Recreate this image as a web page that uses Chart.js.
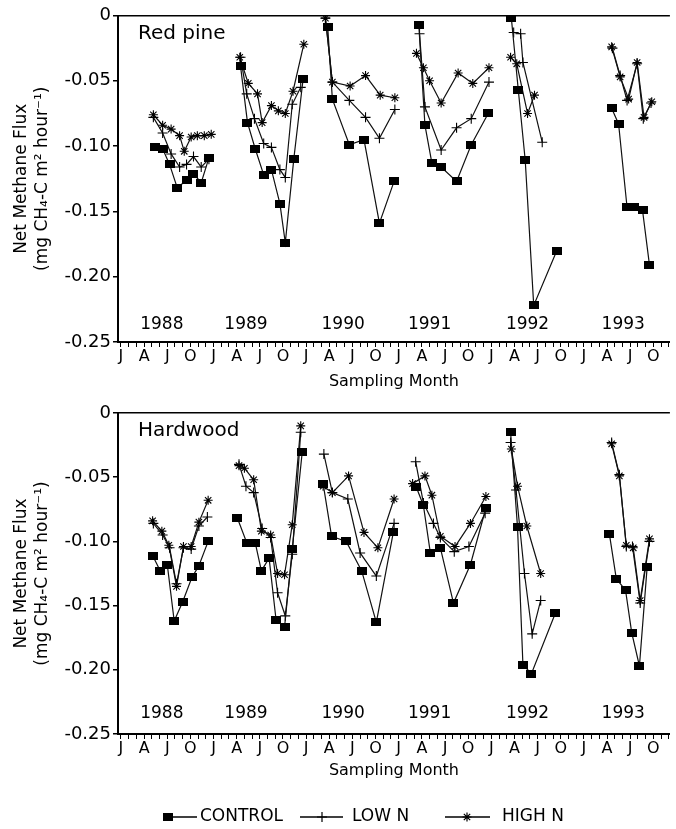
<!DOCTYPE html>
<html>
<head>
<meta charset="utf-8">
<script src="https://cdn.jsdelivr.net/npm/chart.js@4/dist/chart.umd.min.js"></script>
<style>
  html, body { margin: 0; padding: 0; background: #fff; }
  #wrap { position: relative; width: 676px; height: 829px; }
  canvas { position: absolute; left: 0; }
  #pine { top: 0; }
  #hard { top: 395px; }
</style>
</head>
<body>
<div id="wrap">
  <canvas id="pine" width="676" height="395"></canvas>
  <canvas id="hard" width="676" height="434"></canvas>
</div>
<script>
// months counted from the first "J" tick (0 = Jan 1988); null = break between years
const pineControlM = [4.4,5.4,6.3,7.3,8.5,9.4,10.4,11.4, null, 15.5,16.4,17.4,18.5,19.5,20.6,21.3,22.4,23.6, null, 26.8,27.4,29.6,31.5,33.5,35.4, null, 38.6,39.4,40.3,41.5,43.5,45.4,47.6, null, 50.6,51.5,52.4,53.5,56.5, null, 63.6,64.5,65.6,66.5,67.6,68.5];
const pineControlV = [-0.101,-0.102,-0.114,-0.132,-0.126,-0.121,-0.128,-0.109, null, -0.039,-0.082,-0.102,-0.122,-0.118,-0.144,-0.174,-0.110,-0.049, null, -0.009,-0.064,-0.099,-0.095,-0.159,-0.127, null, -0.007,-0.084,-0.113,-0.116,-0.127,-0.099,-0.075, null, -0.002,-0.057,-0.111,-0.222,-0.180, null, -0.071,-0.083,-0.147,-0.147,-0.149,-0.191];
const pineLowM = [4.2,5.4,6.5,7.6,8.5,9.4,10.4,11.4, null, 15.5,16.3,17.3,18.5,19.5,20.6,21.3,22.2,23.3, null, 26.5,27.4,29.6,31.7,33.5,35.5, null, 38.7,39.4,41.5,43.5,45.4,47.7, null, 50.9,51.8,52.1,54.6, null, 63.7,64.7,65.6,66.9,67.7,68.7];
const pineLowV = [-0.078,-0.090,-0.106,-0.116,-0.114,-0.108,-0.116,-0.110, null, -0.032,-0.060,-0.079,-0.098,-0.101,-0.118,-0.124,-0.068,-0.055, null, -0.002,-0.051,-0.065,-0.078,-0.094,-0.072, null, -0.014,-0.070,-0.103,-0.086,-0.079,-0.051, null, -0.013,-0.014,-0.036,-0.097, null, -0.025,-0.046,-0.065,-0.037,-0.079,-0.067];
const pineHighM = [4.2,5.4,6.5,7.6,8.2,9.1,9.9,10.8,11.7, null, 15.4,16.5,17.7,18.3,19.5,20.4,21.3,22.3,23.7, null, 26.5,27.4,29.7,31.7,33.6,35.5, null, 38.3,39.2,40.0,41.5,43.7,45.6,47.7, null, 50.5,51.3,52.7,53.6, null, 63.6,64.7,65.8,66.9,67.8,68.8];
const pineHighV = [-0.076,-0.084,-0.087,-0.092,-0.104,-0.093,-0.092,-0.092,-0.091, null, -0.032,-0.052,-0.060,-0.082,-0.069,-0.073,-0.075,-0.058,-0.022, null, -0.002,-0.051,-0.054,-0.046,-0.061,-0.063, null, -0.029,-0.040,-0.050,-0.067,-0.044,-0.052,-0.040, null, -0.032,-0.037,-0.075,-0.061, null, -0.024,-0.047,-0.064,-0.036,-0.078,-0.066];

const hardControlM = [4.1,5.1,6.0,6.9,8.0,9.2,10.1,11.3, null, 15.1,16.3,17.4,18.2,19.2,20.1,21.2,22.2,23.5, null, 26.2,27.3,29.2,31.2,33.1,35.3, null, 38.3,39.2,40.1,41.4,43.1,45.3,47.3, null, 50.5,51.4,52.1,53.2,56.3, null, 63.3,64.2,65.4,66.2,67.2,68.2];
const hardControlV = [-0.111,-0.123,-0.118,-0.162,-0.147,-0.128,-0.119,-0.100, null, -0.082,-0.101,-0.101,-0.123,-0.113,-0.161,-0.167,-0.106,-0.030, null, -0.055,-0.096,-0.100,-0.123,-0.163,-0.093, null, -0.058,-0.072,-0.109,-0.105,-0.148,-0.118,-0.074, null, -0.015,-0.089,-0.196,-0.203,-0.156, null, -0.094,-0.129,-0.138,-0.171,-0.197,-0.120];
const hardLowM = [4.2,5.4,6.3,7.2,8.1,9.1,10.1,11.2, null, 15.3,16.2,17.2,18.3,19.4,20.3,21.3,22.2,23.3, null, 26.3,27.4,29.4,31.0,33.1,35.4, null, 38.2,39.2,40.5,41.4,43.2,45.1,47.2, null, 50.5,51.2,52.3,53.3,54.4, null, 63.6,64.6,65.5,66.3,67.3,68.5];
const hardLowV = [-0.086,-0.095,-0.105,-0.133,-0.105,-0.106,-0.088,-0.081, null, -0.040,-0.057,-0.062,-0.090,-0.097,-0.140,-0.158,-0.110,-0.015, null, -0.032,-0.062,-0.067,-0.109,-0.127,-0.086, null, -0.038,-0.070,-0.086,-0.097,-0.108,-0.104,-0.078, null, -0.023,-0.060,-0.125,-0.172,-0.146, null, -0.023,-0.048,-0.104,-0.104,-0.148,-0.100];
const hardHighM = [4.1,5.3,6.2,7.2,8.1,9.1,10.1,11.3, null, 15.3,16.0,17.2,18.2,19.4,20.3,21.2,22.2,23.3, null, 26.2,27.4,29.5,31.5,33.3,35.4, null, 37.8,39.4,40.3,41.4,43.3,45.3,47.3, null, 50.6,51.4,52.6,54.4, null, 63.6,64.6,65.5,66.4,67.3,68.5];
const hardHighV = [-0.084,-0.092,-0.103,-0.135,-0.104,-0.104,-0.085,-0.068, null, -0.041,-0.043,-0.052,-0.092,-0.095,-0.125,-0.126,-0.087,-0.010, null, -0.057,-0.062,-0.049,-0.093,-0.105,-0.067, null, -0.055,-0.049,-0.064,-0.096,-0.104,-0.086,-0.065, null, -0.028,-0.057,-0.088,-0.125, null, -0.024,-0.049,-0.103,-0.105,-0.146,-0.098];

const yearLabels = ['1988', '1989', '1990', '1991', '1992', '1993'];
const yearMonths = [5.3, 16.2, 28.8, 40.0, 52.7, 65.1];
const monthLetters = ['J', 'A', 'J', 'O'];
const seriesNames = ['CONTROL', 'LOW N', 'HIGH N'];

const FONT = 'DejaVu Sans';

// filled rectangle marker for CONTROL
const squareMark = document.createElement('canvas');
squareMark.width = 10; squareMark.height = 8;
squareMark.getContext('2d').fillRect(0, 0, 10, 8);

function toPoints(ms, vs) {
  return ms.map((m, i) => ({ x: m === null ? ms[i - 1] + 0.5 : m, y: vs[i] }));
}

function drawMark(ctx, kind, x, y) {
  if (kind === 0) { ctx.drawImage(squareMark, x - 5, y - 4); return; }
  const r = kind === 1 ? 5 : 4.5;
  ctx.beginPath();
  ctx.moveTo(x - r, y); ctx.lineTo(x + r, y);
  ctx.moveTo(x, y - r); ctx.lineTo(x, y + r);
  if (kind === 2) {
    const d = r * Math.SQRT1_2;
    ctx.moveTo(x - d, y - d); ctx.lineTo(x + d, y + d);
    ctx.moveTo(x - d, y + d); ctx.lineTo(x + d, y - d);
  }
  ctx.stroke();
}

// panel name + year captions
const panelText = {
  id: 'panelText',
  afterDatasetsDraw(chart, args, opts) {
    const { ctx, chartArea, scales: { x, y } } = chart;
    ctx.save();
    ctx.fillStyle = '#000';
    ctx.textBaseline = 'middle';
    ctx.textAlign = 'left';
    ctx.font = '20px "' + FONT + '"';
    ctx.fillText(opts.title, chartArea.left + 20, chartArea.top + 18);
    ctx.font = '17px "' + FONT + '"';
    ctx.textAlign = 'center';
    yearLabels.forEach((t, i) => {
      ctx.fillText(t, x.getPixelForValue(yearMonths[i]), y.getPixelForValue(opts.yearLevel));
    });
    ctx.restore();
  }
};

// legend row under the lower panel
const legendRow = {
  id: 'legendRow',
  afterDraw(chart, args, opts) {
    if (!opts.show) return;
    const ctx = chart.ctx;
    const y = 422;
    const items = [
      { x0: 163, x1: 197, mx: 168, tx: 200 },
      { x0: 300, x1: 343, mx: 322, tx: 352 },
      { x0: 445, x1: 490, mx: 467, tx: 502 }
    ];
    ctx.save();
    ctx.strokeStyle = '#000'; ctx.fillStyle = '#000';
    ctx.font = '17px "' + FONT + '"';
    ctx.textBaseline = 'middle'; ctx.textAlign = 'left';
    items.forEach((it, i) => {
      ctx.lineWidth = 1.5;
      ctx.beginPath(); ctx.moveTo(it.x0, y); ctx.lineTo(it.x1, y); ctx.stroke();
      ctx.lineWidth = 1.2;
      drawMark(ctx, i, it.mx, y);
      ctx.fillText(chart.data.datasets[i].label, it.tx, y);
    });
    ctx.restore();
  }
};

function makeChart(id, title, yearLevel, ctrl, low, high, padTop, padBottom, xHeight, showLegend) {
  const common = { borderColor: '#111', borderWidth: 1.2, tension: 0, spanGaps: false,
                   pointBorderColor: '#000', pointBackgroundColor: '#000', pointBorderWidth: 1.1 };
  return new Chart(document.getElementById(id), {
    type: 'line',
    data: {
      datasets: [
        Object.assign({ label: seriesNames[0], data: ctrl, pointStyle: squareMark, pointRadius: 5 }, common),
        Object.assign({ label: seriesNames[1], data: low, pointStyle: 'cross', pointRadius: 5 }, common),
        Object.assign({ label: seriesNames[2], data: high, pointStyle: 'star', pointRadius: 4.5 }, common)
      ]
    },
    options: {
      responsive: false,
      animation: false,
      layout: { padding: { top: padTop, bottom: padBottom, left: 0, right: 0 } },
      plugins: {
        legend: { display: false },
        tooltip: { enabled: false },
        panelText: { title: title, yearLevel: yearLevel },
        legendRow: { show: showLegend }
      },
      scales: {
        x: {
          type: 'linear', min: -0.385, max: 71.15,
          afterFit: s => { s.height = xHeight; },
          ticks: {
            stepSize: 1, autoSkip: false, maxRotation: 0, minRotation: 0, includeBounds: false,
            color: '#000', padding: 2, font: { family: FONT, size: 16, lineHeight: 1 },
            callback: v => (Number.isInteger(v) && v >= 0 && v % 3 === 0) ? monthLetters[(v / 3) % 4] : ''
          },
          grid: { drawOnChartArea: false, color: '#000', tickColor: '#000', tickLength: 5, lineWidth: 1 },
          border: { color: '#000', width: 2 },
          title: { display: true, text: 'Sampling Month', color: '#000',
                   font: { family: FONT, size: 16 }, padding: { top: 0, bottom: 0 } }
        },
        y: {
          min: -0.25, max: 0,
          afterFit: s => { s.width = 118; },
          ticks: {
            stepSize: 0.05, color: '#000', padding: 2, font: { family: FONT, size: 18 },
            callback: v => (Math.abs(v) < 1e-9 ? '0' : v.toFixed(2))
          },
          grid: {
            color: c => (c.tick && Math.abs(c.tick.value) < 1e-9) ? '#000' : 'rgba(0,0,0,0)',
            tickColor: '#000', tickLength: 5, lineWidth: 1.5
          },
          border: { color: '#000', width: 2 },
          title: {
            display: true, text: ['Net Methane Flux', '(mg CH\u2084-C m\u00b2 hour\u207b\u00b9)'], color: '#000',
            font: { family: FONT, size: 17, lineHeight: 1.18 }, padding: { top: 12, bottom: 0 }
          }
        }
      }
    },
    plugins: [panelText, legendRow]
  });
}

makeChart('pine', 'Red pine', -0.237,
  toPoints(pineControlM, pineControlV), toPoints(pineLowM, pineLowV), toPoints(pineHighM, pineHighV),
  15.5, 4, 49, false);
makeChart('hard', 'Hardwood', -0.234,
  toPoints(hardControlM, hardControlV), toPoints(hardLowM, hardLowV), toPoints(hardHighM, hardHighV),
  18, 49, 46, true);
</script>
</body>
</html>
